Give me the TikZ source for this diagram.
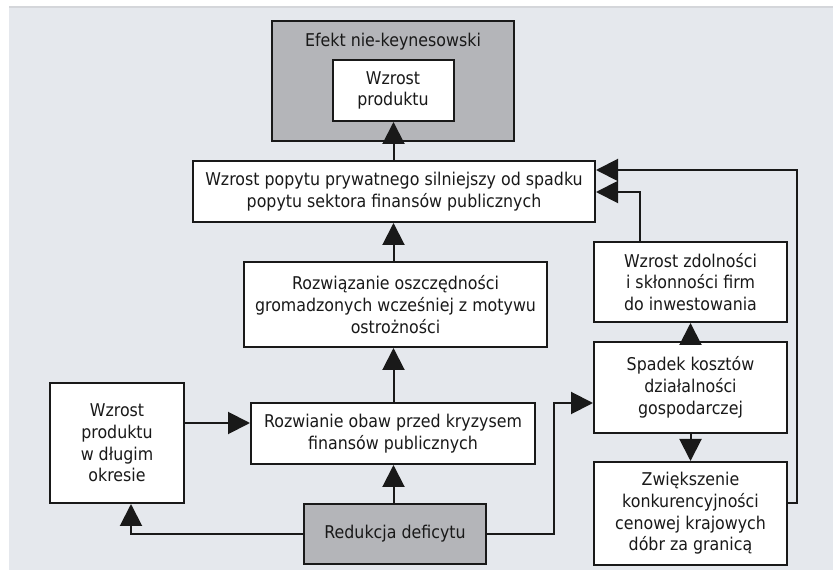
\documentclass[tikz,border=0pt]{standalone}
\usepackage{fontspec}
\setmainfont{DejaVu Sans}[FakeStretch=0.9]
\usetikzlibrary{arrows.meta}
\definecolor{panel}{RGB}{229,232,237}
\definecolor{panelline}{RGB}{212,214,218}
\definecolor{boxgray}{RGB}{180,181,185}
\definecolor{ink}{RGB}{25,25,25}
\tikzset{
  box/.style={draw=ink, line width=1.5pt, fill=white, inner sep=0pt, align=center,
    text=ink, font=\fontsize{13.2pt}{16.3pt}\selectfont},
  graybox/.style={box, fill=boxgray},
  title/.style={inner sep=0pt, text=ink, font=\fontsize{13.2pt}{16.3pt}\selectfont},
  arr/.style={draw=ink, line width=1.5pt, -{Triangle[length=16.5pt, width=16.5pt]}},
}
\begin{document}
\begin{tikzpicture}[x=0.75pt, y=-0.75pt]
  % page and panel
  \fill[white] (0,0) rectangle (833,570);
  \useasboundingbox (0,0) rectangle (833,570);
  \fill[panel] (9,7) rectangle (833,570);
  \draw[panelline, line width=1pt] (9,7) -- (833,7);

  % top group
  \node[graybox, minimum width=181.5pt, minimum height=90pt] (efekt) at (393,81) {};
  \node[title] (efekttitle) at (393,42) {Efekt nie-keynesowski};
  \node[box, minimum width=90.75pt, minimum height=45.75pt] (wp) at (393,90.5) {Wzrost\\produktu};

  % central column
  \node[box, minimum width=301.5pt, minimum height=45.75pt] (popyt) at (394,191.5)
    {Wzrost popytu prywatnego silniejszy od spadku\\popytu sektora finansów publicznych};
  \node[box, minimum width=227.25pt, minimum height=63.75pt] (rozw) at (395.5,304.5)
    {Rozwiązanie oszczędności\\gromadzonych wcześniej z motywu\\ostrożności};
  \node[box, minimum width=213pt, minimum height=45.75pt] (obaw) at (393,433.5)
    {Rozwianie obaw przed kryzysem\\finansów publicznych};
  \node[graybox, minimum width=136.5pt, minimum height=45pt] (red) at (395,534)
    {Redukcja deficytu};

  % left box
  \node[box, minimum width=100.5pt, minimum height=90pt] (dlug) at (117,443)
    {Wzrost\\produktu\\w długim\\okresie};

  % right column
  \node[box, minimum width=144.75pt, minimum height=60pt] (zdol) at (690.5,282)
    {Wzrost zdolności\\i skłonności firm\\do inwestowania};
  \node[box, minimum width=144.75pt, minimum height=68.25pt] (spad) at (690.5,387.5)
    {Spadek kosztów\\działalności\\gospodarczej};
  \node[box, minimum width=144.75pt, minimum height=77.25pt] (zwie) at (690.5,513.5)
    {Zwiększenie\\konkurencyjności\\cenowej krajowych\\dóbr za granicą};

  % routing points
  \coordinate (ax) at (393.5,0);
  \coordinate (la) at (131,0);
  \coordinate (ly) at (0,423);
  \coordinate (rb) at (554,403);
  \coordinate (z1) at (797,503);
  \coordinate (c1) at (797,170);
  \coordinate (c2) at (640,192);

  % central chain
  \draw[arr] (red.north -| ax) -- (obaw.south -| ax);
  \draw[arr] (obaw.north -| ax) -- (rozw.south -| ax);
  \draw[arr] (rozw.north -| ax) -- (popyt.south -| ax);
  \draw[arr] (popyt.north -| ax) -- (wp.south -| ax);

  % left side
  \draw[arr] (dlug.east |- ly) -- (obaw.west |- ly);
  \draw[arr] (red.west) -| (la |- dlug.south);

  % right side
  \draw[arr] (red.east) -| (rb) -- (spad.west |- rb);
  \draw[arr] (spad.north) -- (zdol.south);
  \draw[arr] (spad.south) -- (zwie.north);
  \draw[arr] (zdol.north -| c2) -- (c2) -- (popyt.east |- c2);
  \draw[arr] (zwie.east |- z1) -- (z1) -- (c1) -- (popyt.east |- c1);
\end{tikzpicture}
\end{document}
